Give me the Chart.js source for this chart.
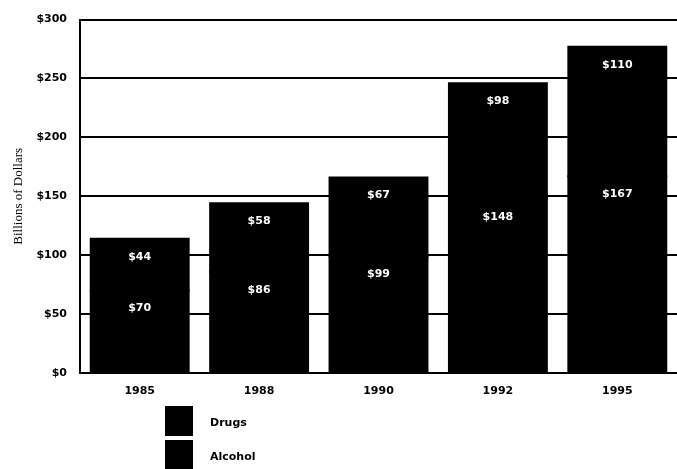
<!DOCTYPE html>
<html>
<head>
<meta charset="utf-8">
<script src="https://cdn.jsdelivr.net/npm/chart.js@4"></script>
<style>
html,body{margin:0;padding:0;background:#fff;}
#wrap{width:677px;height:469px;position:relative;}
</style>
</head>
<body>
<div id="wrap"><canvas id="c" width="677" height="469"></canvas></div>
<script>
const categories = ['1985', '1988', '1990', '1992', '1995'];
const alcohol = [70, 86, 99, 148, 167];
const drugs = [44, 58, 67, 98, 110];
const yTicks = [0, 50, 100, 150, 200, 250, 300];
const seriesNames = ['Drugs', 'Alcohol'];

const labelPlugin = {
  id: 'segLabels',
  afterDatasetsDraw(chart) {
    const ctx = chart.ctx;
    ctx.save();
    ctx.fillStyle = '#fff';
    ctx.font = 'bold 11px "DejaVu Sans"';
    ctx.textAlign = 'center';
    ctx.textBaseline = 'middle';
    chart.data.datasets.forEach((ds, di) => {
      const meta = chart.getDatasetMeta(di);
      meta.data.forEach((el, i) => {
        ctx.fillText('$' + ds.data[i], el.x, el.y + 18);
      });
    });
    ctx.restore();
  }
};

const legendPlugin = {
  id: 'sideLegend',
  afterDraw(chart) {
    const ctx = chart.ctx;
    ctx.save();
    ctx.font = 'bold 11px "DejaVu Sans"';
    ctx.textBaseline = 'middle';
    ctx.textAlign = 'left';
    seriesNames.forEach((name, i) => {
      const top = 406 + i * 34;
      ctx.fillStyle = '#000';
      ctx.fillRect(165, top, 28, 30);
      ctx.fillText(name, 210, top + 17);
    });
    ctx.restore();
  }
};

new Chart(document.getElementById('c'), {
  type: 'bar',
  data: {
    labels: categories,
    datasets: [
      { label: 'Alcohol', data: alcohol, backgroundColor: '#000', borderColor: '#000', borderWidth: 0, inflateAmount: 1 },
      { label: 'Drugs', data: drugs, backgroundColor: '#000', borderColor: '#000', borderWidth: 0, inflateAmount: 1 }
    ]
  },
  options: {
    responsive: false,
    animation: false,
    layout: { padding: { top: 14, right: 0, left: 0, bottom: 0 } },
    datasets: { bar: { categoryPercentage: 1, barPercentage: 0.82 } },
    plugins: { legend: { display: false }, tooltip: { enabled: false } },
    scales: {
      x: {
        stacked: true,
        grid: { display: false, drawTicks: false },
        border: { display: false },
        ticks: { color: '#000', font: { family: 'DejaVu Sans', weight: 'bold', size: 11 }, padding: 12 },
        afterFit(s) { s.height = 96; }
      },
      y: {
        stacked: true,
        min: 0, max: 300,
        afterBuildTicks(s) { s.ticks = yTicks.map(v => ({ value: v })); },
        grid: { color: '#000', lineWidth: 2, drawTicks: false },
        border: { display: true, color: '#000', width: 2 },
        ticks: {
          color: '#000', padding: 13,
          font: { family: 'DejaVu Sans', weight: 'bold', size: 11 },
          callback: v => '$' + v
        },
        title: {
          display: true, text: 'Billions of Dollars', color: '#000',
          font: { family: 'Liberation Serif', size: 13 }, padding: { top: 11, bottom: 0 }
        },
        afterFit(s) { s.width = 80; }
      }
    }
  },
  plugins: [labelPlugin, legendPlugin]
});
</script>
</body>
</html>
